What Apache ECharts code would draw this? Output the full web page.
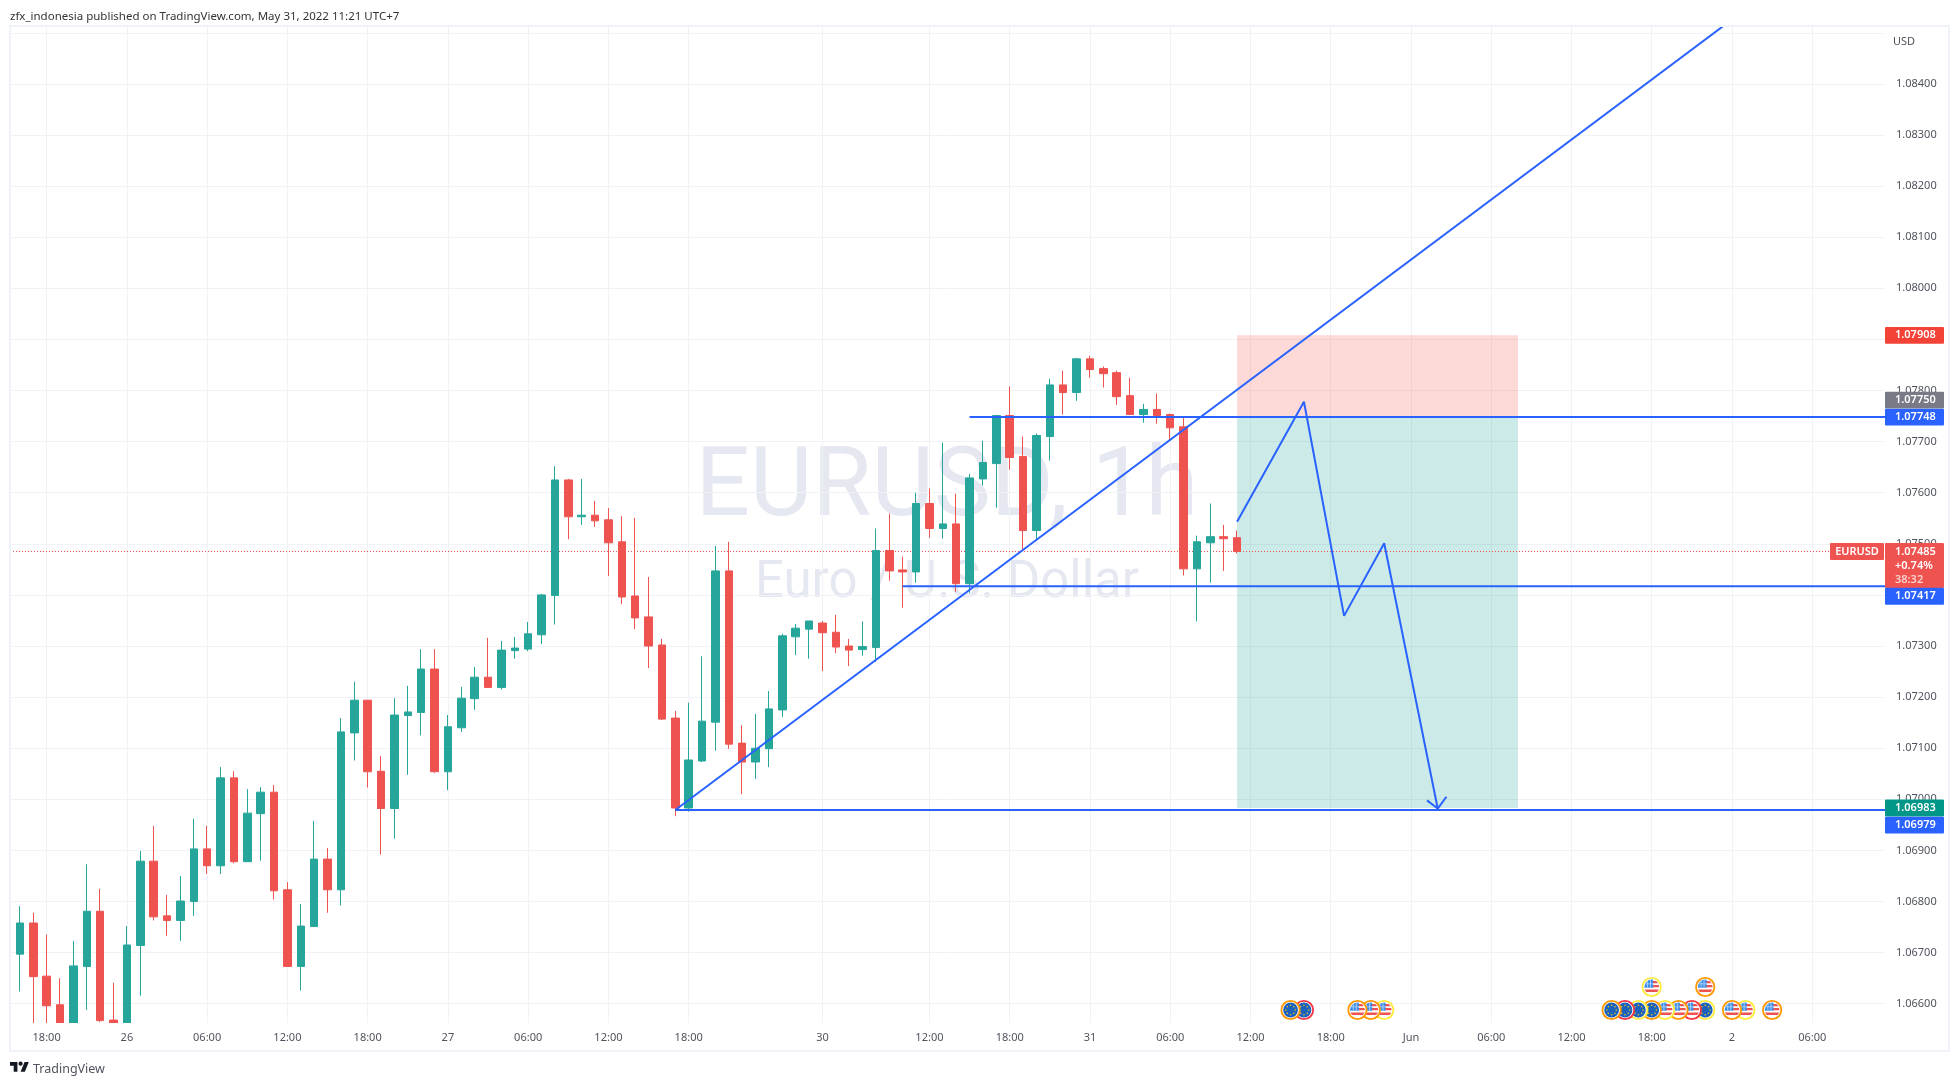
<!DOCTYPE html>
<html>
<head>
<meta charset="utf-8">
<title>EURUSD 1h</title>
<script src="https://cdn.jsdelivr.net/npm/echarts@6/dist/echarts.min.js"></script>
<style>
  html, body { margin: 0; padding: 0; background: #fff; }
  #chart { width: 1959px; height: 1086px; }
</style>
</head>
<body>
<div id="chart"></div>
<script>
// hourly candles, index = bar number from the left edge of the picture
const opens = [1.06840,1.06697,1.06758,1.06654,1.06598,1.06540,1.06673,1.06781,1.06568,1.06500,
  1.06714,1.06879,1.06772,1.06763,1.06800,1.06903,1.06870,1.07042,1.06878,1.06972,
  1.07014,1.06823,1.06673,1.06751,1.06883,1.06823,1.07130,1.07194,1.07055,1.06982,
  1.07164,1.07170,1.07255,1.07054,1.07140,1.07197,1.07239,1.07219,1.07291,1.07294,
  1.07322,1.07399,1.07625,1.07553,1.07556,1.07547,1.07504,1.07398,1.07357,1.07302,
  1.07159,1.06983,1.07075,1.07151,1.07447,1.07110,1.07073,1.07099,1.07175,1.07318,
  1.07333,1.07345,1.07327,1.07300,1.07293,1.07297,1.07487,1.07449,1.07445,1.07579,
  1.07530,1.07539,1.07422,1.07627,1.07657,1.07751,1.07671,1.07526,1.07710,1.07811,
  1.07796,1.07862,1.07843,1.07835,1.07790,1.07753,1.07763,1.07753,1.07729,1.07451,
  1.07502,1.07514,1.07512]
const closes = [1.06697,1.06758,1.06653,1.06596,1.06540,1.06674,1.06781,1.06567,1.06500,1.06715,
  1.06879,1.06770,1.06763,1.06801,1.06903,1.06870,1.07042,1.06878,1.06973,1.07014,
  1.06821,1.06673,1.06752,1.06883,1.06823,1.07132,1.07194,1.07054,1.06982,1.07165,
  1.07171,1.07255,1.07054,1.07142,1.07198,1.07239,1.07219,1.07292,1.07296,1.07324,
  1.07400,1.07625,1.07553,1.07556,1.07545,1.07502,1.07396,1.07355,1.07300,1.07157,
  1.06983,1.07077,1.07153,1.07447,1.07108,1.07073,1.07100,1.07177,1.07320,1.07335,
  1.07349,1.07326,1.07298,1.07292,1.07299,1.07487,1.07447,1.07445,1.07579,1.07530,
  1.07539,1.07422,1.07629,1.07659,1.07751,1.07669,1.07526,1.07712,1.07811,1.07796,
  1.07862,1.07841,1.07833,1.07788,1.07753,1.07763,1.07751,1.07727,1.07451,1.07504,
  1.07514,1.07510,1.07485]
const lows = [1.06697,1.06624,1.06540,1.06545,1.06520,1.06520,1.06588,1.06564,1.06480,1.06480,
  1.06616,1.06763,1.06733,1.06723,1.06772,1.06854,1.06854,1.06875,1.06878,1.06880,
  1.06804,1.06673,1.06626,1.06751,1.06778,1.06792,1.07076,1.07023,1.06892,1.06923,
  1.07048,1.07125,1.07052,1.07018,1.07132,1.07175,1.07218,1.07215,1.07275,1.07290,
  1.07304,1.07342,1.07509,1.07537,1.07533,1.07437,1.07382,1.07333,1.07257,1.07155,
  1.06967,1.06976,1.07073,1.07095,1.07099,1.07010,1.07040,1.07063,1.07161,1.07282,
  1.07275,1.07251,1.07286,1.07261,1.07281,1.07269,1.07428,1.07375,1.07424,1.07512,
  1.07510,1.07406,1.07404,1.07614,1.07571,1.07645,1.07487,1.07508,1.07663,1.07753,
  1.07780,1.07825,1.07806,1.07772,1.07753,1.07737,1.07735,1.07702,1.07438,1.07348,
  1.07424,1.07447,1.07481]
const highs = [1.06840,1.06791,1.06778,1.06735,1.06650,1.06723,1.06873,1.06825,1.06641,1.06752,
  1.06899,1.06948,1.06813,1.06850,1.06962,1.06948,1.07063,1.07055,1.07020,1.07024,
  1.07028,1.06838,1.06795,1.06958,1.06905,1.07159,1.07230,1.07194,1.07085,1.07198,
  1.07222,1.07294,1.07294,1.07165,1.07220,1.07259,1.07316,1.07310,1.07318,1.07347,
  1.07402,1.07652,1.07627,1.07627,1.07584,1.07570,1.07554,1.07551,1.07435,1.07314,
  1.07173,1.07189,1.07280,1.07496,1.07504,1.07145,1.07167,1.07212,1.07324,1.07343,
  1.07349,1.07349,1.07361,1.07314,1.07348,1.07530,1.07559,1.07475,1.07600,1.07608,
  1.07698,1.07598,1.07637,1.07702,1.07751,1.07808,1.07710,1.07716,1.07823,1.07839,
  1.07864,1.07868,1.07847,1.07839,1.07825,1.07774,1.07794,1.07755,1.07747,1.07516,
  1.07579,1.07537,1.07526]

// axis ticks
const xTickBars = [3,9,15,21,27,33,39,45,51,61,69,75,81,87,93,99,105,111,117,123,129,135]
const xTickLabels = ['18:00','26','06:00','12:00','18:00','27','06:00','12:00','18:00','30','12:00','18:00','31','06:00','12:00','18:00','Jun','06:00','12:00','18:00','2','06:00']
const yGridTicks = [1.066,1.067,1.068,1.069,1.07,1.071,1.072,1.073,1.074,1.075,1.076,1.077,1.078,1.079,1.08,1.081,1.082,1.083,1.084,1.085]
const yLabelTicks = [1.066,1.067,1.068,1.069,1.07,1.071,1.072,1.073,1.074,1.075,1.076,1.077,1.078,1.079,1.08,1.081,1.082,1.083,1.084]

// drawings: [bar, price]
const lastPrice = 1.07485
const lastChange = '+0.74%'
const lastCountdown = '38:32'
const stopPrice = 1.07908
const entryPrice = 1.0775
const targetPrice = 1.06983
const zoneBars = [92, 113]
const resistance = 1.07748
const resistanceStart = 72
const support = 1.07417
const supportStart = 67
const base = 1.06979
const baseStart = 50
const trendLine = [[50, 1.06979], [129, 1.08526]]
const forecastPath = [[92, 1.07543], [97, 1.07778], [100, 1.07359], [103, 1.07501], [107, 1.06982]]
const forecastHead = [[106.2, 1.06998], [107, 1.06982], [107.65, 1.07005]]

// price scale tags
const tagPrices = [stopPrice, entryPrice, resistance, lastPrice, support, targetPrice, base]
const tagLabels = ['1.07908', '1.07750', '1.07748', '1.07485', '1.07417', '1.06983', '1.06979']

// economic calendar, right to left so the left ones end up on top
const eventBars = [132,130,129,127,126,125,124,123,122,121,120,103,102,101,97,96,127,123]
const eventFlags = ['US','US','US','EU','US','US','US','EU','EU','EU','EU','US','US','US','EU','EU','US','US']
const eventImpact = ['medium','low','medium','low','high','medium','low','medium','low','high','medium','low','medium','medium','high','medium','medium','low']
const eventRows = [0,0,0,0,0,0,0,0,0,0,0,0,0,0,0,0,1,1]

const xMin = 0.2617
const xMax = 140.44
const yMin = 1.065623
const yMax = 1.085114

const FONT = '"Noto Sans", sans-serif'
const BLUE = '#2962FF'
const UP = '#26A69A'
const DOWN = '#EF5350'
const GRID = '#F1F2F6'
const FRAME = '#F0F3FA'

const ringColors = { high: '#F23645', medium: '#FF9800', low: '#FFEB3B' }

const tagStyles = [
  { fill: '#F44336', dy: 0 },
  { fill: '#787B86', dy: -16 },
  { fill: BLUE, dy: 0 },
  { fill: DOWN, dy: 0 },
  { fill: BLUE, dy: 10 },
  { fill: '#009688', dy: 0 },
  { fill: BLUE, dy: 15 }
]

const renderTag = (params, api) => {
  const i = params.dataIndex
  const style = tagStyles[i]
  const rect = params.coordSys
  const left = rect.x + rect.width
  const y = api.coord([xMax, tagPrices[i]])[1] + style.dy
  const isLast = tagPrices[i] === lastPrice
  const textAt = (text, dy, fill) => ({
    type: 'text',
    style: { text, x: left + 10, y: y + dy, fill: fill || '#fff', font: '600 11px ' + FONT, verticalAlign: 'middle' }
  })
  const children = [
    { type: 'rect', shape: { x: left, y: y - 8.4, width: 59, height: isLast ? 45 : 16.8, r: 1 }, style: { fill: style.fill } },
    textAt(tagLabels[i], 0)
  ]
  if (isLast) {
    children.push(textAt(lastChange, 14.5))
    children.push(textAt(lastCountdown, 28, '#FAD1CF'))
    children.push({ type: 'rect', shape: { x: left - 55, y: y - 8.4, width: 54, height: 16.8, r: 1 }, style: { fill: DOWN } })
    children.push({
      type: 'text',
      style: { text: 'EURUSD', x: left - 28, y, fill: '#fff', font: '600 11px ' + FONT, align: 'center', verticalAlign: 'middle' }
    })
  }
  return { type: 'group', children }
}

const euDots = () => {
  const dots = []
  for (let k = 0; k < 8; k++) {
    const a = k * Math.PI / 4
    dots.push({ type: 'circle', shape: { cx: 4.7 * Math.cos(a), cy: 4.7 * Math.sin(a), r: 0.8 }, style: { fill: '#F5C623' } })
  }
  return dots
}

const usFlag = () => [
  { type: 'rect', shape: { x: -8, y: -8, width: 16, height: 16 }, style: { fill: '#fff' } },
  { type: 'rect', shape: { x: 0, y: -6, width: 8, height: 2.2 }, style: { fill: '#EF5350' } },
  { type: 'rect', shape: { x: 0, y: -2, width: 8, height: 2.2 }, style: { fill: '#EF5350' } },
  { type: 'rect', shape: { x: -8, y: 2.4, width: 16, height: 2.6 }, style: { fill: '#EF5350' } },
  { type: 'rect', shape: { x: -8, y: -8, width: 9.4, height: 8.8 }, style: { fill: '#3F8FE8' } },
  { type: 'rect', shape: { x: -4.6, y: -8, width: 0.8, height: 8.8 }, style: { fill: '#BBD8F7' } },
  { type: 'rect', shape: { x: -1.6, y: -8, width: 0.8, height: 8.8 }, style: { fill: '#BBD8F7' } },
  { type: 'rect', shape: { x: -8, y: -3.6, width: 9.4, height: 0.8 }, style: { fill: '#BBD8F7' } }
]

const euFlag = () => [
  { type: 'rect', shape: { x: -8, y: -8, width: 16, height: 16 }, style: { fill: '#1B62BC' } }
].concat(euDots())

const renderEvent = (params, api) => {
  const i = params.dataIndex
  const pos = api.coord([eventBars[i], yMin])
  const cy = (eventRows[i] ? 987 : 1010)
  return {
    type: 'group',
    x: pos[0],
    y: cy,
    children: [
      { type: 'circle', shape: { cx: 0, cy: 0, r: 9.2 }, style: { fill: '#fff', stroke: ringColors[eventImpact[i]], lineWidth: 1.8 } },
      {
        type: 'group',
        clipPath: { type: 'circle', shape: { cx: 0, cy: 0, r: 7.4 } },
        children: eventFlags[i] === 'EU' ? euFlag() : usFlag()
      }
    ]
  }
}

const plainLine = (data, z, width) => ({
  type: 'line',
  data,
  z,
  symbol: 'none',
  silent: true,
  animation: false,
  clip: true,
  lineStyle: { color: BLUE, width: width || 2 }
})

// TradingView mark, points in the 36 unit logo box
const logoPoints = (pts) => pts.map((p) => [10 + p[0] * 0.53, 1060 + p[1] * 0.53])

const chart = echarts.init(document.getElementById('chart'), null, { renderer: 'canvas' })

const option = {
  animation: false,
  backgroundColor: '#fff',
  grid: { left: 10, top: 27, width: 1875, height: 996 },
  xAxis: [{
    type: 'value',
    min: xMin,
    max: xMax,
    axisLine: { show: false },
    axisTick: { show: false, customValues: xTickBars },
    axisLabel: { show: false, customValues: xTickBars },
    splitLine: { show: true, lineStyle: { color: GRID, width: 1 } }
  }, {
    type: 'value',
    min: xMin,
    max: xMax,
    z: 6,
    position: 'bottom',
    axisLine: { show: false },
    axisTick: { show: false, customValues: xTickBars },
    splitLine: { show: false },
    axisLabel: {
      customValues: xTickBars,
      color: '#50535E',
      fontFamily: FONT,
      fontSize: 11,
      margin: 9,
      formatter: (v) => xTickLabels[xTickBars.indexOf(v)]
    }
  }],
  yAxis: {
    type: 'value',
    position: 'right',
    min: yMin,
    max: yMax,
    axisLine: { show: false },
    axisTick: { show: false, customValues: yGridTicks },
    axisLabel: {
      customValues: yLabelTicks,
      color: '#50535E',
      fontFamily: FONT,
      fontSize: 11,
      margin: 11,
      formatter: (v) => v.toFixed(5)
    },
    splitLine: { show: true, lineStyle: { color: GRID, width: 1 } }
  },
  series: [
    // risk / reward boxes
    {
      type: 'line',
      data: [],
      z: 1,
      silent: true,
      markArea: {
        silent: true,
        animation: false,
        data: [
          [{ coord: [zoneBars[0], stopPrice], itemStyle: { color: 'rgba(244,67,54,0.2)' } }, { coord: [zoneBars[1], entryPrice] }],
          [{ coord: [zoneBars[0], entryPrice], itemStyle: { color: 'rgba(0,150,136,0.2)' } }, { coord: [zoneBars[1], targetPrice] }]
        ]
      }
    },
    // last price
    {
      type: 'line',
      data: [[xMin, lastPrice], [136.3, lastPrice]],
      z: 1,
      symbol: 'none',
      silent: true,
      lineStyle: { color: DOWN, width: 1, type: [1, 2] }
    },
    {
      type: 'candlestick',
      data: opens.map((o, i) => [i, o, closes[i], lows[i], highs[i]]),
      encode: { x: 0, y: [1, 2, 3, 4] },
      barWidth: 8,
      z: 2,
      silent: true,
      itemStyle: { color: UP, color0: DOWN, borderColor: UP, borderColor0: DOWN, borderWidth: 1 }
    },
    plainLine([[resistanceStart, resistance], [xMax, resistance]], 3),
    plainLine([[supportStart, support], [xMax, support]], 3),
    plainLine([[baseStart, base], [xMax, base]], 3),
    plainLine(trendLine, 3),
    plainLine(forecastPath, 3),
    plainLine(forecastHead, 3),
    {
      type: 'custom',
      z: 4,
      silent: true,
      renderItem: renderEvent,
      data: eventBars.map((b) => [b, yMin])
    },
    {
      type: 'custom',
      z: 8,
      silent: true,
      renderItem: renderTag,
      data: tagPrices.map((p) => [xMax, p])
    }
  ],
  graphic: [
    { type: 'text', z: -1, silent: true, x: 947, y: 491, style: { text: 'EURUSD, 1h', fill: '#E5E8F0', font: '96px Roboto', textAlign: 'center', textVerticalAlign: 'middle' } },
    { type: 'text', z: -1, silent: true, x: 947, y: 584, style: { text: 'Euro / U.S. Dollar', fill: '#E5E8F0', font: '51px Roboto', textAlign: 'center', textVerticalAlign: 'middle' } },
    // hides the parts of candles running past the pane
    { type: 'rect', z: 5, silent: true, shape: { x: 0, y: 27, width: 10, height: 996 }, style: { fill: '#fff' } },
    { type: 'rect', z: 5, silent: true, shape: { x: 0, y: 1023, width: 1959, height: 63 }, style: { fill: '#fff' } },
    { type: 'rect', z: 7, silent: true, shape: { x: 10, y: 26, width: 1939, height: 1025 }, style: { fill: 'none', stroke: FRAME, lineWidth: 2 } },
    { type: 'text', z: 7, silent: true, x: 1893, y: 41.5, style: { text: 'USD', fill: '#50535E', font: '11px ' + FONT, textVerticalAlign: 'middle' } },
    {
      type: 'text', z: 7, silent: true, x: 10, y: 16.5,
      style: {
        text: 'zfx_indonesia published on TradingView.com, May 31, 2022 11:21 UTC+7',
        fill: '#333', font: '11.5px ' + FONT, textVerticalAlign: 'middle'
      }
    },
    { type: 'polygon', z: 7, silent: true, shape: { points: logoPoints([[0, 4], [14, 4], [14, 22], [7, 22], [7, 11], [0, 11]]) }, style: { fill: '#131722' } },
    { type: 'polygon', z: 7, silent: true, shape: { points: logoPoints([[20, 22], [27.5, 4], [35.5, 4], [28, 22]]) }, style: { fill: '#131722' } },
    { type: 'circle', z: 7, silent: true, shape: { cx: 10 + 20 * 0.53, cy: 1060 + 7 * 0.53, r: 2.1 }, style: { fill: '#131722' } },
    { type: 'text', z: 7, silent: true, x: 33, y: 1069, style: { text: 'TradingView', fill: '#50535E', font: '12.5px ' + FONT, textVerticalAlign: 'middle' } }
  ]
}

chart.setOption(option)
</script>
</body>
</html>
